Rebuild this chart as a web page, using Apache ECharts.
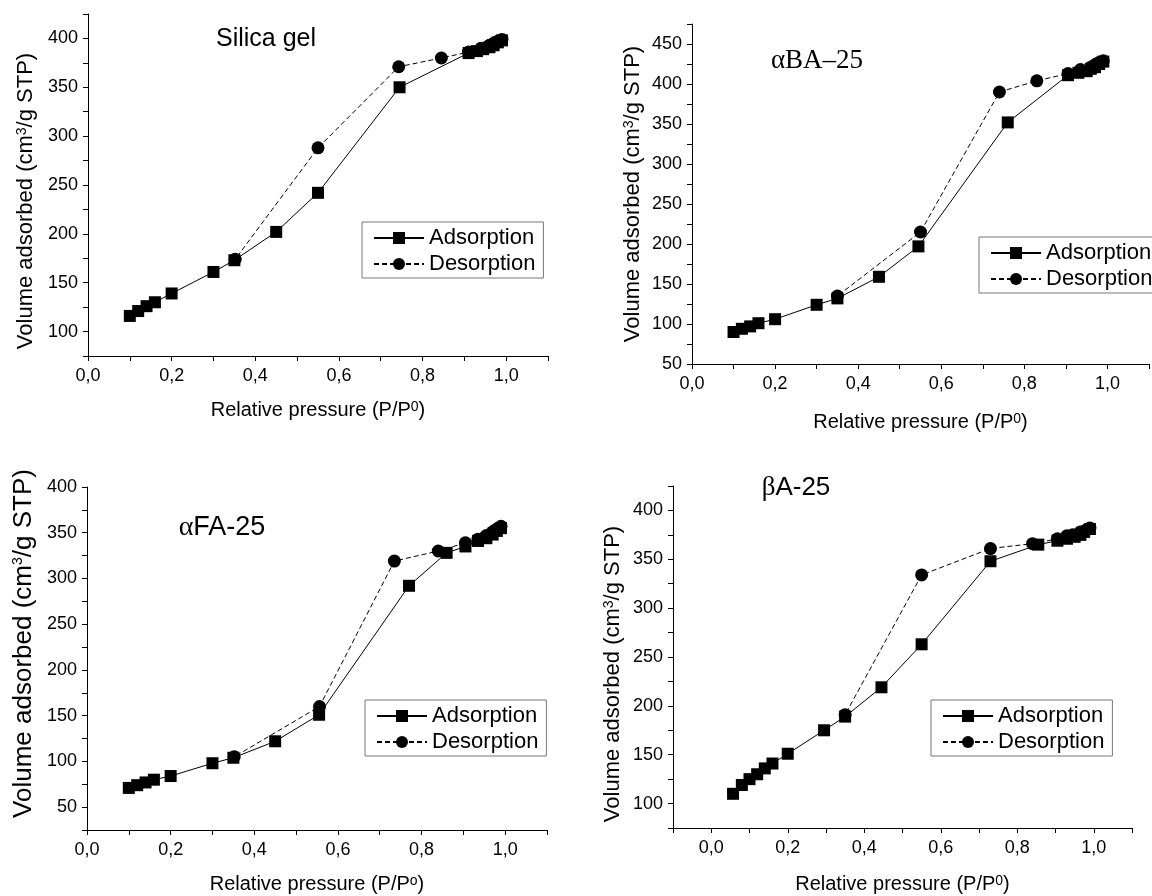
<!DOCTYPE html>
<html>
<head>
<meta charset="utf-8">
<script src="https://cdn.jsdelivr.net/npm/echarts@6/dist/echarts.min.js"></script>
<style>
  html, body { margin: 0; padding: 0; background: #fff; }
  #chart { width: 1152px; height: 896px; }
</style>
</head>
<body>
<div id="chart"></div>
<script>
// Silica gel
const silicaAdsP = [0.10, 0.12, 0.14, 0.16, 0.20, 0.30, 0.35, 0.45, 0.55, 0.745, 0.91, 0.93, 0.945, 0.96, 0.97, 0.98, 0.99];
const silicaAdsV = [116, 121, 126, 130, 139, 161, 173, 202, 242, 350, 385, 387, 389, 391, 393, 396, 398];
const silicaDesP = [0.99, 0.98, 0.97, 0.96, 0.94, 0.91, 0.845, 0.743, 0.55, 0.352];
const silicaDesV = [399, 397, 395, 393, 390, 386, 380, 371, 288, 174];

// aBA-25
const abaAdsP = [0.10, 0.12, 0.14, 0.16, 0.20, 0.30, 0.35, 0.45, 0.545, 0.76, 0.905, 0.93, 0.95, 0.96, 0.97, 0.98, 0.99];
const abaAdsV = [90, 94, 97, 101, 106, 124, 132, 159, 197, 352, 411, 414, 416, 419, 421, 425, 428];
const abaDesP = [0.99, 0.98, 0.97, 0.96, 0.935, 0.905, 0.83, 0.74, 0.55, 0.35];
const abaDesV = [429, 427, 424, 421, 418, 413, 404, 390, 215, 135];

// aFA-25
const afaAdsP = [0.10, 0.12, 0.14, 0.16, 0.20, 0.30, 0.35, 0.45, 0.555, 0.77, 0.86, 0.905, 0.935, 0.955, 0.97, 0.98, 0.99];
const afaAdsV = [71, 74, 77, 80, 84, 98, 104, 122, 151, 292, 328, 335, 341, 344, 348, 352, 355];
const afaDesP = [0.99, 0.98, 0.97, 0.955, 0.935, 0.905, 0.84, 0.735, 0.556, 0.352];
const afaDesV = [357, 354, 351, 347, 343, 339, 330, 319, 160, 105];

// bA-25
const baAdsP = [0.057, 0.08, 0.10, 0.12, 0.14, 0.16, 0.20, 0.295, 0.35, 0.445, 0.55, 0.73, 0.855, 0.905, 0.93, 0.95, 0.965, 0.975, 0.99];
const baAdsV = [110, 119, 125, 130, 136, 141, 151, 175, 189, 219, 263, 348, 365, 369, 371, 373, 375, 378, 381];
const baDesP = [0.99, 0.98, 0.965, 0.945, 0.93, 0.905, 0.84, 0.73, 0.55, 0.35];
const baDesV = [382, 380, 378, 375, 374, 371, 366, 361, 334, 191];

const sans = 'Liberation Sans, Arial, sans-serif';
const serif = 'Liberation Serif, Times New Roman, serif';

const pair = (xs, ys) => xs.map((x, i) => [x, ys[i]]);

const chart = echarts.init(document.getElementById('chart'), null, { renderer: 'canvas' });

const grids = [
  { left: 88, top: 14, width: 460, height: 342 },
  { left: 692, top: 24, width: 460, height: 340 },
  { left: 87, top: 487, width: 460, height: 343 },
  { left: 673, top: 486, width: 459, height: 342 }
];

const supStyle = { fontSize: 14, verticalAlign: 'top', fontFamily: sans, color: '#000', padding: [0, 0, 4, 0] };

function xAxisFor(i, min, sup, gap) {
  return {
    type: 'value', gridIndex: i, min: min, max: 1.1, interval: 0.1,
    name: 'Relative pressure (P/P{sup|' + sup + '})',
    nameLocation: 'middle', nameGap: gap,
    nameTextStyle: { fontSize: 20, color: '#000', fontFamily: sans, rich: { sup: supStyle } },
    axisLine: { onZero: false, lineStyle: { color: '#000', width: 1 } },
    axisTick: { length: 5, lineStyle: { color: '#000' } },
    splitLine: { show: false },
    axisLabel: {
      fontSize: 18, color: '#000', fontFamily: sans, margin: 11,
      formatter: v => {
        const k = Math.round(v * 10);
        return (k % 2 === 0 && k >= 0 && k <= 10) ? (k / 10).toFixed(1).replace('.', ',') : '';
      }
    }
  };
}

function yAxisFor(i, min, max, lastLabel, gap, pad, size) {
  return {
    type: 'value', gridIndex: i, min: min, max: max, interval: 25,
    name: 'Volume adsorbed (cm{sup|3}/g STP)',
    nameLocation: 'middle', nameGap: gap,
    nameTextStyle: { fontSize: size, color: '#000', fontFamily: sans, padding: pad, rich: { sup: supStyle } },
    axisLine: { onZero: false, lineStyle: { color: '#000', width: 1 } },
    axisTick: { length: 5, lineStyle: { color: '#000' } },
    splitLine: { show: false },
    axisLabel: {
      fontSize: 18, color: '#000', fontFamily: sans, margin: 10,
      formatter: v => (v % 50 === 0 && v <= lastLabel) ? String(v) : ''
    }
  };
}

function legendAt(left, top) {
  return {
    left: left, top: top, orient: 'vertical',
    data: ['Adsorption', 'Desorption'],
    selectedMode: false,
    borderColor: '#777', borderWidth: 1, borderRadius: 0,
    padding: [5, 8, 3, 11],
    itemWidth: 50, itemHeight: 15, itemGap: 4,
    textStyle: { fontSize: 22, color: '#000', fontFamily: sans, lineHeight: 22 }
  };
}

function seriesFor(i, adsP, adsV, desP, desV) {
  return [
    {
      name: 'Adsorption', type: 'line', xAxisIndex: i, yAxisIndex: i,
      data: pair(adsP, adsV),
      symbol: 'rect', symbolSize: 12,
      itemStyle: { color: '#000' },
      lineStyle: { color: '#000', width: 1 },
      z: 2
    },
    {
      name: 'Desorption', type: 'line', xAxisIndex: i, yAxisIndex: i,
      data: pair(desP, desV),
      symbol: 'circle', symbolSize: 13,
      itemStyle: { color: '#000' },
      lineStyle: { color: '#000', width: 1, type: [5, 3] },
      z: 3
    }
  ];
}

function label(x, y, text, rich, size) {
  return {
    type: 'text', x: x, y: y, silent: true,
    style: {
      text: text, fill: '#000', font: size + 'px ' + sans,
      textAlign: 'center', textVerticalAlign: 'middle',
      rich: rich
    }
  };
}

const option = {
  animation: false,
  backgroundColor: '#fff',
  grid: grids,
  xAxis: [
    xAxisFor(0, 0, '0', 44),
    xAxisFor(1, 0, '0', 48),
    xAxisFor(2, 0, 'o', 44),
    xAxisFor(3, -0.1, '0', 46)
  ],
  yAxis: [
    yAxisFor(0, 75, 425, 400, 51, [0, 32, 0, 0], 22),
    yAxisFor(1, 50, 475, 450, 48, [0, 0, 0, 0], 22),
    yAxisFor(2, 25, 400, 400, 50, [0, 0, 0, 30], 26),
    yAxisFor(3, 75, 425, 400, 49, [0, 34, 0, 0], 22)
  ],
  legend: [
    legendAt(362, 222),
    legendAt(979, 237),
    legendAt(365, 700),
    legendAt(931, 700)
  ],
  graphic: [
    label(266, 39, 'Silica gel', null, 25),
    label(817, 61, '{s|αBA–25}', { s: { fontFamily: serif, fontSize: 27, fill: '#000' } }, 27),
    label(222, 528, '{g|α}FA-25', { g: { fontFamily: serif, fontSize: 28, fill: '#000' } }, 27),
    label(796, 488, '{g|β}A-25', { g: { fontFamily: serif, fontSize: 27, fill: '#000' } }, 26)
  ],
  series: [].concat(
    seriesFor(0, silicaAdsP, silicaAdsV, silicaDesP, silicaDesV),
    seriesFor(1, abaAdsP, abaAdsV, abaDesP, abaDesV),
    seriesFor(2, afaAdsP, afaAdsV, afaDesP, afaDesV),
    seriesFor(3, baAdsP, baAdsV, baDesP, baDesV)
  )
};

chart.setOption(option);
</script>
</body>
</html>
